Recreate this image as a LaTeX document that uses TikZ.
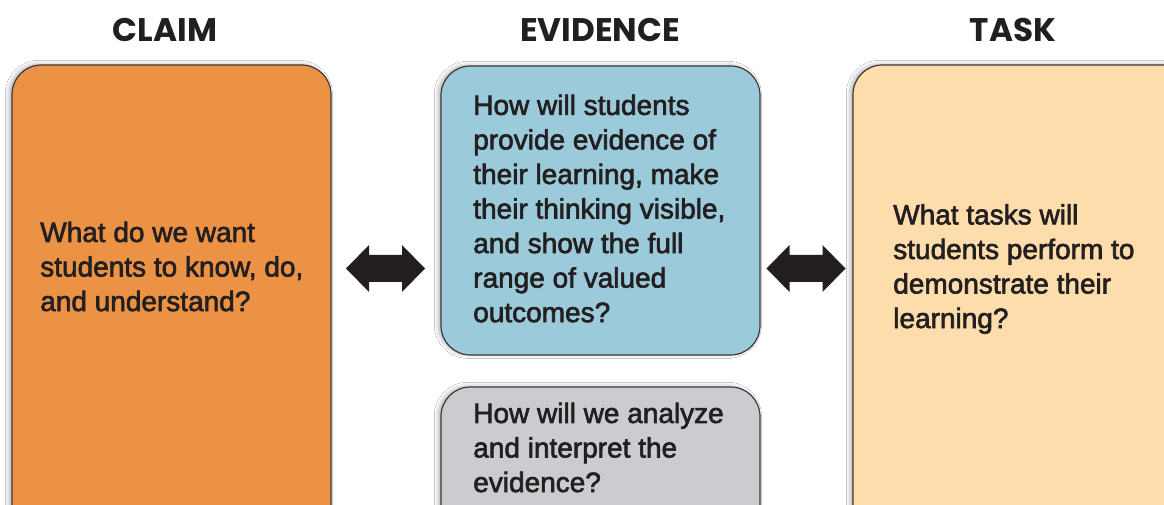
\documentclass[tikz,border=0pt]{standalone}
\usepackage{fontspec}
\setmainfont{Liberation Sans}[FakeBold=2.2]
\newfontfamily\titlefont{Poppins}
\usetikzlibrary{fit,shadows.blur}
\definecolor{claimcol}{HTML}{EC9244}
\definecolor{evidcol}{HTML}{9BCBDB}
\definecolor{graycol}{HTML}{CBCCD0}
\definecolor{taskcol}{HTML}{FDDDAB}
\definecolor{linecol}{HTML}{3A3A3A}
\definecolor{inkcol}{HTML}{231F20}
\begin{document}
\begin{tikzpicture}[x=0.75pt,y=-0.75pt,
  box/.style={draw=linecol, line width=0.9pt, rounded corners=22pt, inner sep=0pt,
    blur shadow={shadow xshift=-2pt, shadow yshift=0.5pt, shadow blur radius=3pt, shadow opacity=30, shadow blur steps=8}},
  txt/.style={anchor=west, align=left, inner sep=0pt, text=inkcol,
    font=\fontsize{21}{25.9}\selectfont},
  ttl/.style={inner sep=0pt, text=inkcol, font=\titlefont\bfseries\fontsize{24.5}{26}\selectfont},
  dblarrow/.style={fill=inkcol}
]
\useasboundingbox (0,0) rectangle (1164,505);
\clip (0,0) rectangle (1164,505);
\fill[white] (0,0) rectangle (1164,505);

% titles
\node[ttl] (tclaim) at (165,30) {CLAIM};
\node[ttl] (tevid) at (600,30) {EVIDENCE};
\node[ttl] (ttask) at (1013,30) {TASK};

% boxes
\node[box, fill=claimcol, fit={(12,65) (331,545)}] (claim) {};
\node[box, fill=evidcol, fit={(441,66) (760,355)}] (evid) {};
\node[box, fill=graycol, fit={(441,387) (760,545)}] (analyze) {};
\node[box, fill=taskcol, fit={(853,65) (1200,545)}] (task) {};

% texts
\node[txt] (claimtxt) at (40,266.5) {What do we want\\students to know, do,\\and understand?};
\node[txt] (evidtxt) at (473,208.5) {How will students\\provide evidence of\\their learning, make\\their thinking visible,\\and show the full\\range of valued\\outcomes?};
\node[txt] (tasktxt) at (893,269) {What tasks will\\students perform to\\demonstrate their\\learning?};
\node[txt] (analyzetxt) at (473,447.5) {How will we analyze\\and interpret the\\evidence?};

% double arrows
\coordinate (a1) at (385.5,268.5);
\coordinate (a2) at (806,268.5);
\foreach \c in {a1,a2}{
  \fill[dblarrow] ($(\c)+(-39.5,0)$) -- ++(23,-23.5) -- ++(0,10) -- ++(33,0) -- ++(0,-10)
    -- ++(23,23.5) -- ++(-23,23.5) -- ++(0,-10) -- ++(-33,0) -- ++(0,10) -- cycle;
}
\end{tikzpicture}
\end{document}
